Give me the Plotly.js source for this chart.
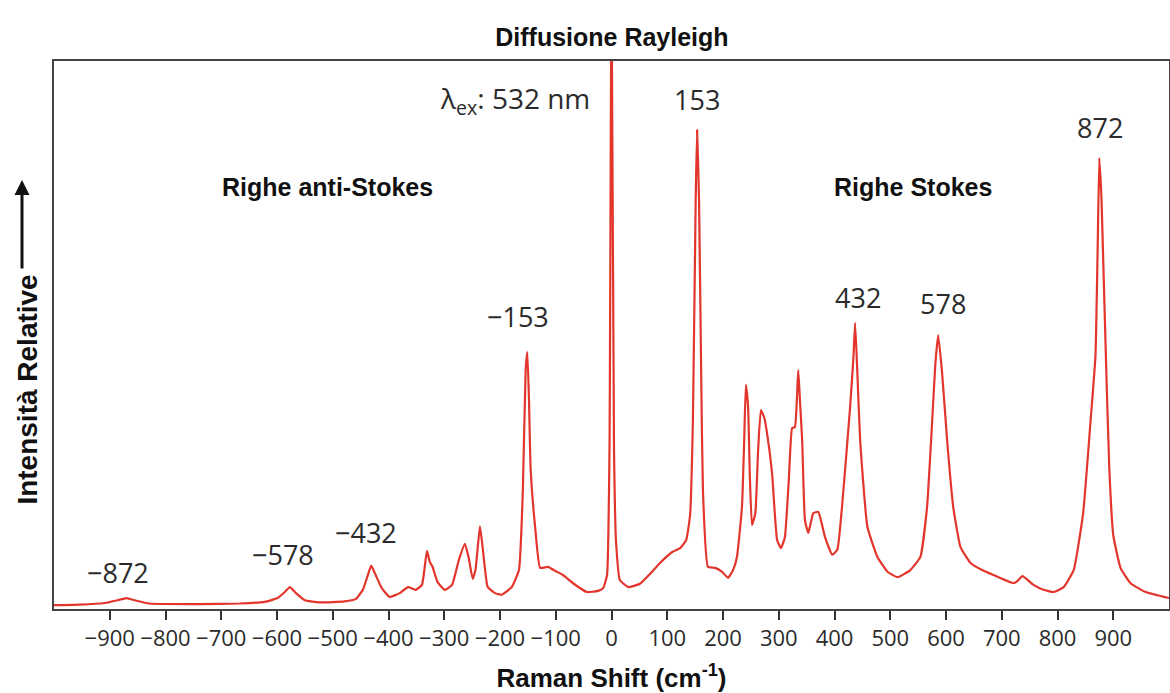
<!DOCTYPE html>
<html>
<head>
<meta charset="utf-8">
<script src="https://cdn.plot.ly/plotly-3.0.1.min.js"></script>
<style>
  html, body { margin: 0; padding: 0; background: #ffffff; }
  #chart { width: 1170px; height: 693px; }
</style>
</head>
<body>
<div id="chart"></div>
<script>
// Raman shift (cm^-1) and relative intensity
const ramanShift = [
  -1000, -954, -909, -886, -870, -852, -829, -739, -667, -622,
  -599, -586, -577, -566, -550, -523, -479, -459, -446, -437,
  -431, -423, -412, -398, -380, -365, -351, -340, -331, -326,
  -321, -312, -299, -286, -274, -263, -256, -249, -244, -236,
  -231, -222, -209, -197, -179, -166, -159, -154, -151, -148,
  -145, -137, -128, -114, -100, -87, -69, -44, -24, -15,
  -8, -3.6, 0, 4.5, 8, 15, 30, 51, 69, 87,
  109, 123, 134, 141, 146, 151, 153.5, 157, 161, 164,
  173, 186, 198, 209, 218, 225, 234, 238, 241, 245,
  248, 252, 258, 263, 268, 274, 279, 288, 297, 304,
  311, 318, 324, 329, 335, 338, 342, 347, 353, 362,
  371, 383, 396, 405, 416, 428, 434, 437, 441, 446,
  459, 477, 495, 513, 536, 554, 566, 575, 581, 586,
  593, 602, 613, 626, 644, 665, 685, 721, 728, 737,
  757, 775, 793, 811, 829, 846, 859, 868, 872, 875,
  879, 882, 888, 893, 900, 913, 931, 958, 1000
];
const intensity = [
  0.7, 0.8, 1.1, 1.6, 2.0, 1.5, 1.0, 0.9, 1.0, 1.3,
  2.0, 3.1, 4.0, 2.9, 1.6, 1.2, 1.4, 1.8, 3.5, 6.2,
  7.9, 6.2, 3.8, 2.2, 2.9, 4.0, 3.5, 4.4, 10.6, 8.6,
  7.7, 4.9, 3.5, 4.4, 8.9, 11.9, 9.3, 5.5, 7.1, 15.1,
  11.1, 4.0, 2.9, 2.6, 4.0, 7.1, 21.7, 43.6, 46.9, 38.1,
  25.4, 15.0, 7.5, 7.7, 6.9, 6.2, 4.7, 3.1, 3.3, 3.8,
  6.2, 29, 115, 29, 12.6, 5.3, 4.0, 4.6, 6.4, 8.4,
  10.4, 11.1, 12.6, 17.2, 34.5, 74.6, 87.4, 74.6, 41.8, 21.7,
  7.7, 7.5, 6.8, 5.7, 7.1, 9.5, 18.6, 30.8, 40.9, 36.9,
  24.8, 15.3, 17.5, 29.0, 36.3, 34.9, 32.1, 24.8, 12.6, 11.1,
  13.1, 23.5, 33.0, 33.2, 43.6, 38.1, 30.8, 16.2, 13.9, 17.5,
  17.7, 13.1, 9.9, 10.8, 21.7, 36.9, 46.0, 52.2, 43.1, 30.8,
  15.0, 9.5, 6.8, 5.8, 7.1, 9.5, 18.6, 33.9, 44.9, 50.0,
  43.1, 30.8, 18.6, 11.3, 8.4, 7.1, 6.2, 4.7, 5.1, 6.0,
  4.4, 3.5, 3.1, 4.0, 7.1, 17.5, 33.9, 46.0, 65.5, 82.3,
  74.6, 63.7, 41.8, 25.4, 13.5, 7.5, 4.7, 3.1, 2.0
];

// Tick values and labels
const tickValues = [-900, -800, -700, -600, -500, -400, -300, -200, -100, 0, 100, 200, 300, 400, 500, 600, 700, 800, 900];
const tickLabels = ["\u2212900", "\u2212800", "\u2212700", "\u2212600", "\u2212500", "\u2212400", "\u2212300", "\u2212200", "\u2212100", "0", "100", "200", "300", "400", "500", "600", "700", "800", "900"];

// Peak labels
const peakLabelText = ["\u2212872", "\u2212578", "\u2212432", "\u2212153", "153", "432", "578", "872"];
const peakLabelX = [-886, -590, -441, -168, 153.5, 442, 595, 877];
const peakLabelY = [6.6, 10.0, 13.9, 53.3, 92.9, 56.8, 55.8, 87.8];

// Region labels
const regionText = ["Righe anti-Stokes", "Righe Stokes"];
const regionX = [-509, 541];
const regionY = [77.0, 77.0];

const numFont = { family: "Open Sans, Noto Sans, sans-serif", size: 27, color: "#2b2b2b" };
const boldFont = { family: "Liberation Sans, Arial, sans-serif", size: 25, color: "#111111" };

const annotations = [];
for (let i = 0; i < peakLabelText.length; i++) {
  annotations.push({
    x: peakLabelX[i], y: peakLabelY[i], xref: "x", yref: "y",
    text: peakLabelText[i], showarrow: false,
    xanchor: "center", yanchor: "middle", font: numFont
  });
}
for (let i = 0; i < regionText.length; i++) {
  annotations.push({
    x: regionX[i], y: regionY[i], xref: "x", yref: "y",
    text: "<b>" + regionText[i] + "</b>", showarrow: false,
    xanchor: "center", yanchor: "middle", font: boldFont
  });
}
// Excitation wavelength label
annotations.push({
  x: -35, y: 92.9, xref: "x", yref: "y",
  text: "\u03bb<sub>ex</sub>: 532 nm", showarrow: false,
  xanchor: "right", yanchor: "middle",
  font: { family: "Open Sans, Noto Sans, sans-serif", size: 28, color: "#2b2b2b" }
});
// Upward arrow of the y-axis title
annotations.push({
  x: -0.0287, y: 0.783, xref: "paper", yref: "paper",
  text: "", showarrow: true, ax: 0, ay: 90,
  arrowhead: 2, arrowsize: 1, arrowwidth: 3, arrowcolor: "#111111"
});

const trace = {
  x: ramanShift, y: intensity, type: "scatter", mode: "lines",
  line: { color: "#e2352c", width: 2.2, shape: "spline", smoothing: 0.4 },
  hoverinfo: "x+y"
};

const nb = "\u00a0";
const layout = {
  width: 1170, height: 693,
  margin: { l: 54, r: 1, t: 61, b: 84 },
  paper_bgcolor: "#ffffff", plot_bgcolor: "#ffffff",
  showlegend: false,
  title: {
    text: "<b>Diffusione Rayleigh</b>",
    x: 0.5004, xref: "paper", xanchor: "center",
    y: 1 - 37 / 693, yref: "container", yanchor: "middle",
    font: { family: "Liberation Sans, Arial, sans-serif", size: 25, color: "#111111" }
  },
  xaxis: {
    range: [-1000, 1000],
    tickmode: "array", tickvals: tickValues, ticktext: tickLabels,
    ticks: "outside", ticklen: 9, tickwidth: 2, tickcolor: "#333333",
    tickfont: { family: "Open Sans, Noto Sans, sans-serif", size: 22, color: "#2b2b2b" },
    showline: true, linecolor: "#444444", linewidth: 2, mirror: true,
    showgrid: false, zeroline: false,
    title: {
      text: "<b>Raman Shift (cm<sup>-1</sup>)</b>",
      font: { family: "Liberation Sans, Arial, sans-serif", size: 26, color: "#111111" },
      standoff: 17
    }
  },
  yaxis: {
    range: [0, 100],
    showticklabels: false, ticks: "",
    showline: true, linecolor: "#444444", linewidth: 2, mirror: true,
    showgrid: false, zeroline: false,
    title: {
      text: "<b>Intensità Relative" + nb.repeat(14) + "</b>",
      font: { family: "Liberation Sans, Arial, sans-serif", size: 28, color: "#111111" },
      standoff: 6
    }
  },
  annotations: annotations
};

Plotly.newPlot("chart", [trace], layout, { displayModeBar: false, responsive: false });
</script>
</body>
</html>
